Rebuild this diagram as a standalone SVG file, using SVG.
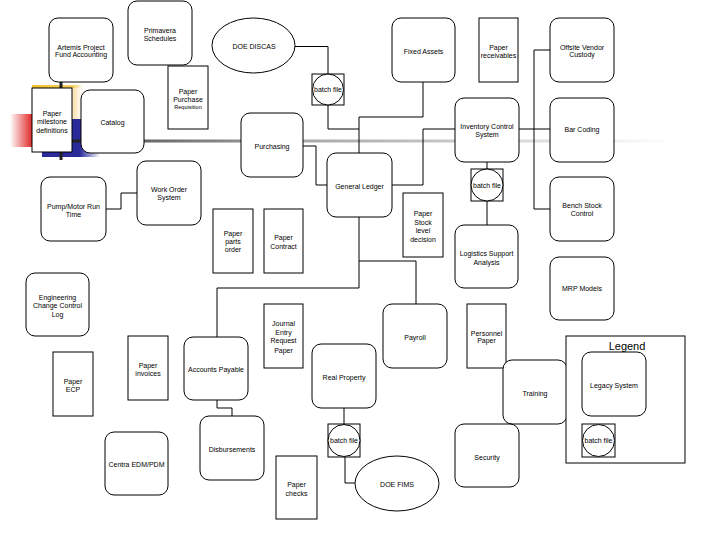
<svg xmlns="http://www.w3.org/2000/svg" width="720" height="540" viewBox="0 0 720 540">
<style>
.n{fill:#fff;stroke:#000;stroke-width:1}
.t{font-family:"Liberation Sans",Arial,sans-serif;font-size:7px;text-anchor:middle;fill:#000}
.s{font-size:5.6px}
.c{fill:none;stroke:#000;stroke-width:1}
</style>
<defs>
<linearGradient id="gl" gradientUnits="userSpaceOnUse" x1="61" y1="0" x2="672" y2="0">
<stop offset="0" stop-color="#222"/>
<stop offset="0.033" stop-color="#222"/>
<stop offset="0.136" stop-color="#666"/>
<stop offset="0.39" stop-color="#a8a8a8"/>
<stop offset="0.645" stop-color="#c8c8c8"/>
<stop offset="1" stop-color="#fff"/>
</linearGradient>
<linearGradient id="gr" x1="0" y1="0" x2="1" y2="0">
<stop offset="0" stop-color="#e02828" stop-opacity="0"/>
<stop offset="1" stop-color="#e02828"/>
</linearGradient>
<linearGradient id="gb" x1="0" y1="0" x2="1" y2="0">
<stop offset="0" stop-color="#2a2a9a"/>
<stop offset="0.65" stop-color="#2a2a9a"/>
<stop offset="1" stop-color="#2a2a9a" stop-opacity="0"/>
</linearGradient>
<linearGradient id="gy" x1="0" y1="0" x2="1" y2="0">
<stop offset="0" stop-color="#fbe0a8"/>
<stop offset="0.8" stop-color="#fbe6bc"/>
<stop offset="1" stop-color="#fff" stop-opacity="0"/>
</linearGradient>
<linearGradient id="gyb" x1="0" y1="0" x2="1" y2="0">
<stop offset="0" stop-color="#f0c030"/>
<stop offset="0.8" stop-color="#f4d060"/>
<stop offset="1" stop-color="#f4d060" stop-opacity="0"/>
</linearGradient>
</defs>
<rect width="720" height="540" fill="#fff"/>
<g id="decoration">
<rect x="10" y="114" width="22" height="33" fill="url(#gr)"/>
<rect x="32" y="85" width="54" height="34" fill="url(#gy)"/>
<rect x="32" y="85" width="50" height="3" fill="url(#gyb)"/>
<rect x="42" y="119" width="58" height="38" fill="url(#gb)"/>
<line x1="61" y1="141" x2="672" y2="141" stroke="url(#gl)" stroke-width="3"/>
<line x1="61" y1="82" x2="61" y2="160" stroke="#222" stroke-width="3"/>
</g>
<g id="connectors">
<path class="c" d="M295,46.5 H328 V74"/>
<path class="c" d="M328,105 V129 H359"/>
<path class="c" d="M359,153 V117 H423 V82"/>
<path class="c" d="M392,185 H423 V129 H455"/>
<path class="c" d="M303,146 H316 V185 H327"/>
<path class="c" d="M519,129 H550"/>
<path class="c" d="M550,50 H534 V209 H550"/>
<path class="c" d="M487,162 V169"/>
<path class="c" d="M487,201 V225"/>
<path class="c" d="M359,217 V288 H217 V337"/>
<path class="c" d="M359,261 H416 V304"/>
<path class="c" d="M106,209 H121 V193 H137"/>
<path class="c" d="M217,400 V408 H232 V416"/>
<path class="c" d="M344,408 V424"/>
<path class="c" d="M345,457 V483 H355"/>
</g>
<g id="artemis"><rect class="n" x="49" y="18" width="64" height="64" rx="9"/><text class="t" x="81" y="49.5">Artemis Project</text><text class="t" x="81" y="57">Fund Accounting</text></g>
<g id="primavera"><rect class="n" x="128" y="1" width="64" height="64" rx="9"/><text class="t" x="160" y="32.5">Primavera</text><text class="t" x="160" y="40.5">Schedules</text></g>
<g id="doe-discas"><ellipse class="n" cx="253.5" cy="45.5" rx="41.5" ry="27.5"/><text class="t" x="254" y="48.5">DOE DISCAS</text></g>
<g id="paper-purchase"><rect class="n" x="168" y="66" width="40" height="63"/><text class="t" x="188" y="93.5">Paper</text><text class="t" x="188" y="101.5">Purchase</text><text class="t s" x="188" y="109">Requisition</text></g>
<g id="paper-milestone"><rect class="n" x="32" y="88" width="40" height="64"/><text class="t" x="52" y="115.5">Paper</text><text class="t" x="52" y="124">milestone</text><text class="t" x="52" y="132.5">definitions</text></g>
<g id="catalog"><rect class="n" x="81" y="90" width="63" height="63" rx="9"/><text class="t" x="112.5" y="124.5">Catalog</text></g>
<g id="fixed-assets"><rect class="n" x="392" y="18" width="63" height="64" rx="9"/><text class="t" x="423.5" y="53.5">Fixed Assets</text></g>
<g id="batch1"><rect class="n" x="312" y="74" width="32" height="31"/><circle class="n" cx="328" cy="89.5" r="15.5"/><text class="t" x="328" y="92">batch file</text></g>
<g id="paper-receivables"><rect class="n" x="479" y="18" width="39" height="64"/><text class="t" x="498.5" y="49.5">Paper</text><text class="t" x="498.5" y="57.5">receivables</text></g>
<g id="offsite"><rect class="n" x="550" y="18" width="64" height="64" rx="9"/><text class="t" x="582" y="49.5">Offsite Vendor</text><text class="t" x="582" y="57">Custody</text></g>
<g id="inventory"><rect class="n" x="455" y="98" width="64" height="64" rx="9"/><text class="t" x="487" y="128.5">Inventory Control</text><text class="t" x="487" y="136.5">System</text></g>
<g id="bar-coding"><rect class="n" x="550" y="98" width="64" height="64" rx="9"/><text class="t" x="582" y="131.5">Bar Coding</text></g>
<g id="purchasing"><rect class="n" x="241" y="113" width="62" height="64" rx="9"/><text class="t" x="272" y="148.5">Purchasing</text></g>
<g id="general-ledger"><rect class="n" x="327" y="153" width="65" height="64" rx="9"/><text class="t" x="359.5" y="188.5">General Ledger</text></g>
<g id="batch2"><rect class="n" x="471" y="169" width="32" height="32"/><circle class="n" cx="487" cy="185" r="16"/><text class="t" x="487" y="187.5">batch file</text></g>
<g id="work-order"><rect class="n" x="137" y="161" width="64" height="64" rx="9"/><text class="t" x="169" y="191.5">Work Order</text><text class="t" x="169" y="200">System</text></g>
<g id="pump-motor"><rect class="n" x="41" y="177" width="65" height="64" rx="9"/><text class="t" x="73.5" y="208.5">Pump/Motor Run</text><text class="t" x="73.5" y="216.5">Time</text></g>
<g id="paper-parts"><rect class="n" x="213" y="209" width="40" height="64"/><text class="t" x="233" y="235.5">Paper</text><text class="t" x="233" y="243.5">parts</text><text class="t" x="233" y="252">order</text></g>
<g id="paper-contract"><rect class="n" x="264" y="209" width="39" height="64"/><text class="t" x="283.5" y="239.5">Paper</text><text class="t" x="283.5" y="248.5">Contract</text></g>
<g id="paper-stock"><rect class="n" x="403" y="193" width="40" height="64"/><text class="t" x="423" y="215.5">Paper</text><text class="t" x="423" y="224.5">Stock</text><text class="t" x="423" y="232.5">level</text><text class="t" x="423" y="241.5">decision</text></g>
<g id="logistics"><rect class="n" x="455" y="225" width="63" height="63" rx="9"/><text class="t" x="486.5" y="255.5">Logistics Support</text><text class="t" x="486.5" y="264.5">Analysis</text></g>
<g id="bench-stock"><rect class="n" x="550" y="177" width="64" height="64" rx="9"/><text class="t" x="582" y="208">Bench Stock</text><text class="t" x="582" y="216">Control</text></g>
<g id="mrp"><rect class="n" x="550" y="257" width="64" height="63" rx="9"/><text class="t" x="582" y="290.5">MRP Models</text></g>
<g id="engineering"><rect class="n" x="26" y="273" width="63" height="63" rx="9"/><text class="t" x="57.5" y="299.5">Engineering</text><text class="t" x="57.5" y="307.5">Change Control</text><text class="t" x="57.5" y="316.5">Log</text></g>
<g id="journal"><rect class="n" x="264" y="304" width="39" height="64"/><text class="t" x="283.5" y="325.5">Journal</text><text class="t" x="283.5" y="334.5">Entry</text><text class="t" x="283.5" y="343">Request</text><text class="t" x="283.5" y="352.5">Paper</text></g>
<g id="payroll"><rect class="n" x="383" y="304" width="64" height="64" rx="9"/><text class="t" x="415" y="339.5">Payroll</text></g>
<g id="personnel"><rect class="n" x="467" y="304" width="39" height="64"/><text class="t" x="486.5" y="335.5">Personnel</text><text class="t" x="486.5" y="342.5">Paper</text></g>
<g id="paper-invoices"><rect class="n" x="128" y="336" width="40" height="64"/><text class="t" x="148" y="367.5">Paper</text><text class="t" x="148" y="375.5">invoices</text></g>
<g id="accounts-payable"><rect class="n" x="184" y="337" width="64" height="63" rx="9"/><text class="t" x="216" y="371.5">Accounts Payable</text></g>
<g id="paper-ecp"><rect class="n" x="53" y="352" width="40" height="64"/><text class="t" x="73" y="383.5">Paper</text><text class="t" x="73" y="391.5">ECP</text></g>
<g id="real-property"><rect class="n" x="312" y="344" width="64" height="64" rx="9"/><text class="t" x="344" y="379.5">Real Property</text></g>
<g id="training"><rect class="n" x="503" y="360" width="64" height="64" rx="9"/><text class="t" x="535" y="395.5">Training</text></g>
<g id="legend"><rect class="n" x="566" y="336" width="119" height="127"/><text x="627" y="350" style="font-family:'Liberation Sans',Arial,sans-serif;font-size:11px;text-anchor:middle">Legend</text><rect class="n" x="582" y="352" width="64" height="64" rx="9"/><text class="t" x="614" y="387.5">Legacy System</text><rect class="n" x="582" y="424" width="33" height="33"/><circle class="n" cx="598.5" cy="440.5" r="16"/><text class="t" x="598.5" y="443">batch file</text></g>
<g id="disbursements"><rect class="n" x="200" y="416" width="64" height="64" rx="9"/><text class="t" x="232" y="451.5">Disbursements</text></g>
<g id="security"><rect class="n" x="455" y="424" width="64" height="63" rx="9"/><text class="t" x="487" y="459.5">Security</text></g>
<g id="centra"><rect class="n" x="105" y="432" width="63" height="63" rx="9"/><text class="t" x="136.5" y="466.5">Centra EDM/PDM</text></g>
<g id="batch3"><rect class="n" x="328" y="424" width="32" height="33"/><circle class="n" cx="344" cy="440.5" r="16"/><text class="t" x="344" y="443">batch file</text></g>
<g id="paper-checks"><rect class="n" x="276" y="456" width="41" height="63"/><text class="t" x="296.5" y="486.5">Paper</text><text class="t" x="296.5" y="495.5">checks</text></g>
<g id="doe-fims"><ellipse class="n" cx="397" cy="483.5" rx="42" ry="27.5"/><text class="t" x="397" y="486.5">DOE FIMS</text></g>
</svg>
